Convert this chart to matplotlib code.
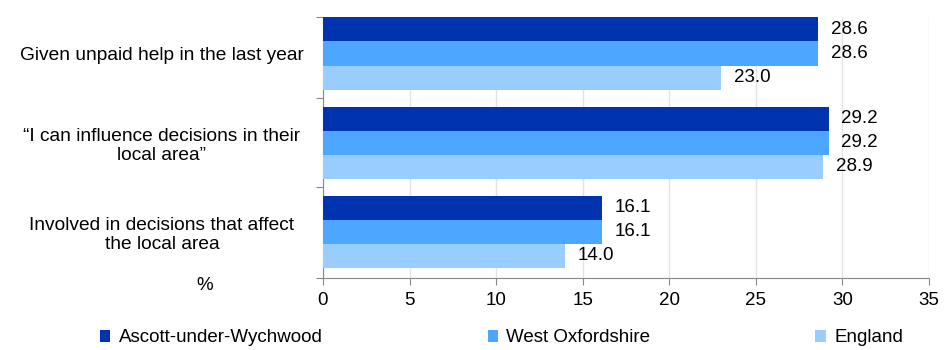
import numpy as np
import matplotlib
matplotlib.use('Agg')
import matplotlib.pyplot as plt

plt.rcParams['font.family'] = ['Liberation Sans', 'DejaVu Sans']

categories = ['Given unpaid help in the last year',
              '\u201cI can influence decisions in their\nlocal area\u201d',
              'Involved in decisions that affect\nthe local area']
series = ['Ascott-under-Wychwood', 'West Oxfordshire', 'England']
ascott = [28.6, 29.2, 16.1]
west_oxon = [28.6, 29.2, 16.1]
england = [23.0, 28.9, 14.0]
colors = ['#0033B0', '#4DA6FF', '#99CCFF']

FS = 13.5

fig = plt.figure(figsize=(9.5, 3.5), dpi=100)
ax = fig.add_axes([323/950, 1-278/350, (929-323)/950, (278-17)/350])

y = np.arange(len(categories))
h = 0.27
for i, (vals, name, c) in enumerate(zip([ascott, west_oxon, england], series, colors)):
    bars = ax.barh(y + (i-1)*h, vals, h, color=c, label=name, zorder=3)
    ax.bar_label(bars, labels=[f'{v:.1f}' for v in vals], padding=9, fontsize=FS)

ax.set_ylim(2.52, -0.41)
ax.set_xlim(0, 35)
ax.set_xticks(np.arange(0, 36, 5))
ax.tick_params(axis='x', labelsize=FS, length=5, color='#888888', pad=5)
ax.set_yticks([-0.41, 0.5, 1.5, 2.52])
ax.set_yticklabels([])
ax.tick_params(axis='y', which='major', length=5, color='#888888')
ax.set_yticks(y, minor=True)
ax.set_yticklabels(categories, minor=True, fontsize=13.8, ha='center',
                   multialignment='center', linespacing=1.15)
ax.tick_params(axis='y', which='minor', length=0, pad=116)
ax.grid(axis='x', color='#e3e3e3', lw=1, zorder=0)
for s in ['top', 'right']:
    ax.spines[s].set_visible(False)
for s in ['left', 'bottom']:
    ax.spines[s].set_color('#888888')

fig.text(205/950, 1-285/350, '%', fontsize=FS, ha='center', va='center')

fig.legend(loc='center left', bbox_to_anchor=(83/950, 1-338/350), ncol=3, frameon=False,
           fontsize=FS, handlelength=0.55, handleheight=0.55, handletextpad=0.45,
           columnspacing=8.8)

fig.savefig('out.png', dpi=100)
